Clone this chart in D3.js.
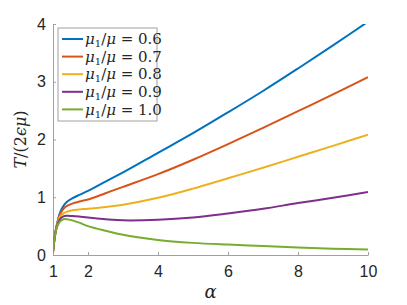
<!DOCTYPE html>
<html>
<head>
<meta charset="utf-8">
<script src="https://cdn.jsdelivr.net/npm/d3@7"></script>
<style>
  body { margin: 0; background: #fff; }
  svg { display: block; }
  .tick text { font-family: "Liberation Sans", Arial, sans-serif; font-size: 16px; fill: #262626; }
  .lbl { font-family: "DejaVu Serif", "Liberation Serif", serif; font-style: italic; fill: #262626; }
</style>
</head>
<body>
<svg id="chart" width="407" height="305"></svg>
<script>
// alpha samples along the x axis
const alpha = [1, 1.05, 1.1, 1.2, 1.3, 1.4, 1.55, 1.75, 2, 2.5, 3, 4, 5, 6, 7, 8, 9, 10]

// T/(2 eps mu) for each mu1/mu ratio
const t06 = [0.05, 0.33, 0.5, 0.73, 0.85, 0.92, 0.98, 1.04, 1.11, 1.27, 1.43, 1.77, 2.11, 2.47, 2.84, 3.23, 3.63, 4.04]
const t07 = [0.05, 0.32, 0.49, 0.7, 0.8, 0.85, 0.89, 0.925, 0.96, 1.07, 1.18, 1.4, 1.65, 1.92, 2.2, 2.49, 2.78, 3.08]
const t08 = [0.05, 0.31, 0.48, 0.66, 0.72, 0.75, 0.775, 0.79, 0.8, 0.83, 0.87, 0.99, 1.15, 1.33, 1.51, 1.7, 1.89, 2.085]
const t09 = [0.05, 0.3, 0.47, 0.62, 0.67, 0.68, 0.675, 0.665, 0.65, 0.62, 0.6, 0.61, 0.65, 0.72, 0.8, 0.9, 0.99, 1.09]
const t10 = [0.05, 0.3, 0.46, 0.58, 0.62, 0.62, 0.6, 0.56, 0.5, 0.42, 0.35, 0.26, 0.21, 0.18, 0.155, 0.13, 0.11, 0.095]

const ratios = ['0.6', '0.7', '0.8', '0.9', '1.0']
const seriesVals = [t06, t07, t08, t09, t10]
const colors = ['#0072BD', '#D95319', '#EDB120', '#7E2F8E', '#77AC30']

const xTicks = [1, 2, 4, 6, 8, 10]
const yTicks = [0, 1, 2, 3, 4]

const margin = { left: 53, top: 24, right: 39, bottom: 50 }
const width = 407, height = 305

const svg = d3.select('#chart')

const x = d3.scaleLinear().domain([1, 10]).range([margin.left, width - margin.right])
const y = d3.scaleLinear().domain([0, 4]).range([height - margin.bottom, margin.top])

svg.append('clipPath').attr('id', 'plotclip')
	.append('rect')
	.attr('x', x(1)).attr('y', y(4))
	.attr('width', x(10) - x(1)).attr('height', y(0) - y(4))

// axes, ticks pointing inward like matlab
const xAxis = svg.append('g')
	.attr('transform', `translate(0,${y(0)})`)
	.call(d3.axisBottom(x).tickValues(xTicks).tickFormat(d3.format('d'))
		.tickSizeInner(-3).tickSizeOuter(0).tickPadding(11))

const yAxis = svg.append('g')
	.attr('transform', `translate(${x(1)},0)`)
	.call(d3.axisLeft(y).tickValues(yTicks).tickFormat(d3.format('d'))
		.tickSizeInner(-3).tickSizeOuter(0).tickPadding(7))

svg.selectAll('.domain, .tick line').attr('stroke', '#a0a0a0').attr('stroke-width', 1)

const line = d3.line()
	.x((d, i) => x(alpha[i]))
	.y(d => y(d))
	.curve(d3.curveCatmullRom.alpha(0.5))

svg.append('g').attr('clip-path', 'url(#plotclip)')
	.selectAll('path')
	.data(seriesVals)
	.join('path')
	.attr('d', line)
	.attr('fill', 'none')
	.attr('stroke', (d, i) => colors[i])
	.attr('stroke-width', 2)

// axis labels
svg.append('text').attr('class', 'lbl')
	.attr('x', x(5.5)).attr('y', 298)
	.attr('text-anchor', 'middle')
	.style('font-size', '18px')
	.text('α')

const yl = svg.append('text').attr('class', 'lbl')
	.attr('transform', `translate(26,${y(2)}) rotate(-90)`)
	.attr('text-anchor', 'middle')
	.style('font-size', '16px')
yl.append('tspan').text('T')
yl.append('tspan').style('font-style', 'normal').text('/(2')
yl.append('tspan').text('ϵμ')
yl.append('tspan').style('font-style', 'normal').text(')')

// legend
const lg = svg.append('g').attr('transform', 'translate(58,28)')
lg.append('rect')
	.attr('width', 99).attr('height', 93)
	.attr('fill', '#fff').attr('stroke', '#a0a0a0').attr('stroke-width', 1)

const rows = lg.selectAll('g.row')
	.data(ratios)
	.join('g')
	.attr('class', 'row')
	.attr('transform', (d, i) => `translate(0,${11 + i * 17.6})`)

rows.append('line')
	.attr('x1', 4).attr('x2', 25)
	.attr('stroke', (d, i) => colors[i])
	.attr('stroke-width', 2)

const lt = rows.append('text').attr('class', 'lbl')
	.attr('x', 27).attr('dy', '0.35em')
	.style('font-size', '15px')
lt.append('tspan').text('μ')
lt.append('tspan').style('font-style', 'normal').style('font-size', '10px').attr('dy', 3).text('1')
lt.append('tspan').style('font-style', 'normal').attr('dy', -3).text('/')
lt.append('tspan').text('μ')
lt.append('tspan').style('font-style', 'normal').text(d => ' = ' + d)
</script>
</body>
</html>
